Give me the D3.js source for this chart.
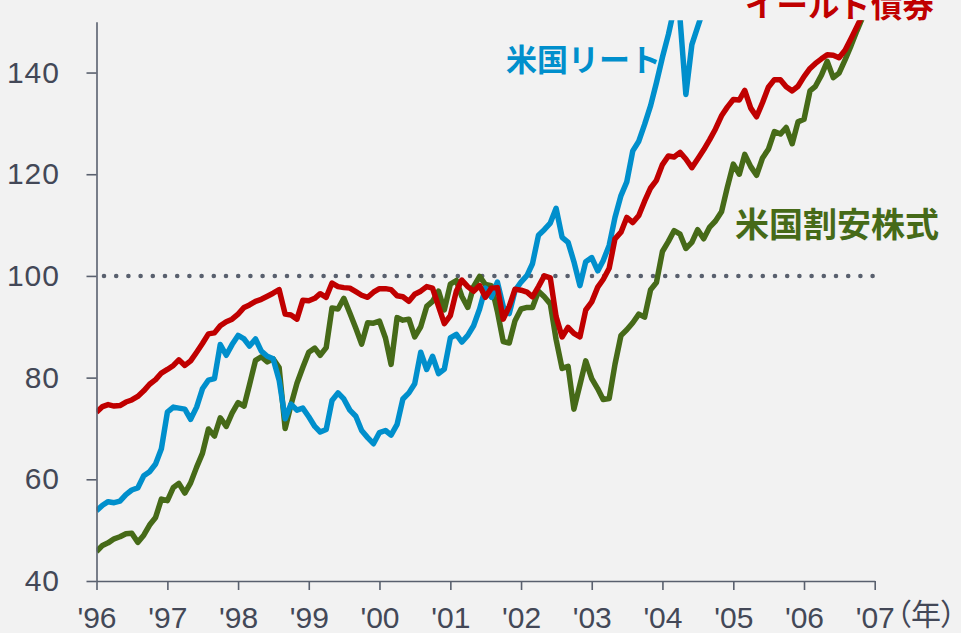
<!DOCTYPE html>
<html>
<head>
<meta charset="utf-8">
<script src="https://cdn.jsdelivr.net/npm/d3@7"></script>
<style>
  body { margin: 0; background: #f2f2f2; }
  svg { display: block; }
</style>
</head>
<body>
<div id="chart"></div>
<script>
// monthly index values, starting Jan 1996
const startMonth = new Date(1996, 0, 1);

const reitValues = [
    53.8, 54.9, 55.6, 55.4, 55.7, 57.0, 57.9, 58.3, 60.7, 61.5, 63.0, 66.0,
    73.2, 74.2, 74.0, 73.8, 71.8, 74.2, 77.8, 79.5, 79.8, 86.5, 84.4, 86.5,
    88.3, 87.6, 86.2, 87.6, 85.2, 84.2, 83.7, 79.5, 71.9, 74.8, 73.6, 74.0,
    72.3, 70.4, 69.3, 69.8, 75.5, 77.0, 75.8, 73.6, 72.4, 69.6, 68.2, 67.0,
    69.2, 69.6, 68.7, 70.8, 75.8, 77.0, 78.8, 85.0, 81.6, 84.2, 80.8, 81.7,
    87.8, 88.5, 87.0, 88.3, 90.2, 93.5, 97.6, 95.8, 98.8, 94.0, 92.6, 97.1,
    98.8, 100.1, 102.4, 108.0, 109.1, 110.4, 113.3, 107.6, 106.6, 102.8, 98.1, 102.8,
    103.6, 101.0, 103.0, 106.0, 111.5, 115.8, 118.5, 124.6, 126.5, 129.8, 133.5, 138.0,
    143.0, 147.5, 152.5, 150.5, 135.7, 145.5, 149.0, 152.5
];

const highYieldValues = [
    73.2, 74.3, 74.7, 74.4, 74.5, 75.2, 75.6, 76.3, 77.4, 78.7, 79.6, 80.9,
    81.6, 82.4, 83.5, 82.4, 83.3, 85.0, 86.7, 88.6, 88.8, 90.2, 91.0, 91.5,
    92.5, 93.8, 94.3, 95.0, 95.4, 96.0, 96.6, 97.3, 92.5, 92.3, 91.5, 95.2,
    95.1, 95.6, 96.5, 95.8, 98.6, 97.9, 97.7, 97.6, 96.9, 96.2, 95.8, 96.8,
    97.5, 97.5, 97.3, 96.1, 95.9, 95.0, 96.4, 97.0, 97.9, 97.6, 94.0, 90.6,
    92.2, 97.0, 99.2, 97.9, 97.0, 98.1, 95.8, 97.6, 97.7, 91.5, 94.0, 97.4,
    97.2, 96.8, 95.9, 97.9, 100.0, 99.6, 92.0, 88.0, 89.9, 88.7, 88.0, 93.3,
    94.9, 97.8, 99.3, 101.5, 107.3, 108.6, 111.5, 110.5, 111.9, 114.7, 117.3, 118.8,
    121.9, 123.6, 123.4, 124.3, 123.0, 121.3, 123.0, 124.8, 126.8, 128.9, 131.5, 133.2,
    134.7, 134.6, 136.5, 133.0, 131.3, 134.1, 137.1, 138.6, 138.6, 137.2, 136.4, 137.3,
    139.2, 140.8, 141.8, 142.7, 143.5, 143.4, 142.9, 144.4, 146.7, 149.0, 151.5
];

const valueStockValues = [
    45.8, 47.0, 47.5, 48.3, 48.7, 49.3, 49.4, 47.6, 49.0, 51.0, 52.5, 56.1,
    55.8, 58.4, 59.2, 57.3, 59.3, 62.4, 65.1, 69.9, 68.5, 72.1, 70.4, 73.0,
    75.1, 74.4, 78.6, 83.4, 84.1, 83.1, 83.7, 82.0, 70.0, 74.6, 78.9, 82.0,
    85.0, 85.8, 84.4, 85.9, 93.7, 93.5, 95.6, 92.7, 89.7, 86.6, 90.8, 90.7,
    91.1, 87.8, 82.6, 91.8, 91.3, 91.5, 88.0, 90.0, 94.0, 95.0, 97.0, 93.3,
    98.4, 99.1, 96.0, 93.8, 97.9, 99.9, 98.3, 98.1, 93.0, 87.1, 86.8, 91.2,
    93.5, 93.8, 93.8, 97.0, 95.9, 94.5, 87.5, 81.8, 82.2, 73.8, 78.6, 83.3,
    79.8, 77.8, 75.7, 75.9, 82.6, 88.3, 89.4, 90.8, 92.5, 91.9, 97.3, 98.7,
    104.8, 106.8, 108.9, 108.2, 105.4, 106.6, 109.1, 107.3, 109.6, 110.8, 112.6, 117.4,
    122.0, 120.0, 123.9, 121.5, 119.8, 123.2, 124.9, 128.4, 127.9, 129.2, 126.0, 130.3,
    130.8, 136.4, 137.3, 139.5, 142.2, 139.0, 139.9, 142.5, 145.3, 148.2, 151.0
];

const seriesNames = ["米国割安株式", "米国リート", "イールド債券"];
const seriesColors = ["#466a18", "#008fcc", "#c00000"];

const yTicks = [40, 60, 80, 100, 120, 140];
const xTickYears = [1996, 1997, 1998, 1999, 2000, 2001, 2002, 2003, 2004, 2005, 2006, 2007];
const baseLine = 100;

const width = 961, height = 633;
const plotLeft = 96.5, plotRight = 874.7, plotTop = 21.7, plotBottom = 581;

const svg = d3.select("#chart")
    .append("svg")
    .attr("width", width)
    .attr("height", height);

const x = d3.scaleTime()
    .domain([new Date(1996, 0, 1), new Date(2007, 0, 1)])
    .range([plotLeft, plotRight]);

const y = d3.scaleLinear()
    .domain([40, 150])
    .range([plotBottom, plotTop]);

const toPoints = function(vals) {
    return vals.map(function(v, i) { return {date: d3.timeMonth.offset(startMonth, i), value: v}; });
};

const series = [valueStockValues, reitValues, highYieldValues].map(function(vals, i) {
    return {name: seriesNames[i], color: seriesColors[i], points: toPoints(vals)};
});

svg.append("clipPath").attr("id", "plot-clip")
    .append("rect")
    .attr("x", plotLeft).attr("y", plotTop - 1.5)
    .attr("width", width - plotLeft).attr("height", plotBottom - plotTop + 10);

// dotted 100 line
svg.append("line")
    .attr("x1", plotLeft + 7.5).attr("x2", plotRight)
    .attr("y1", y(baseLine)).attr("y2", y(baseLine))
    .attr("stroke", "#59606e")
    .attr("stroke-width", 4.6)
    .attr("stroke-linecap", "round")
    .attr("stroke-dasharray", "0 12.2");

const line = d3.line()
    .x(function(d) { return x(d.date); })
    .y(function(d) { return y(d.value); });

svg.append("g")
    .attr("clip-path", "url(#plot-clip)")
    .selectAll("path")
    .data(series)
    .join("path")
    .attr("d", function(d) { return line(d.points); })
    .attr("fill", "none")
    .attr("stroke", function(d) { return d.color; })
    .attr("stroke-width", 5.5)
    .attr("stroke-linejoin", "round");

const axisColor = "#59606e";
const textColor = "#434857";

const yAxis = svg.append("g")
    .attr("transform", "translate(" + plotLeft + ",0)")
    .call(d3.axisLeft(y).tickValues(yTicks).tickSize(10).tickPadding(26.5).tickSizeOuter(0));

const xAxis = svg.append("g")
    .attr("transform", "translate(0," + plotBottom + ")")
    .call(d3.axisBottom(x)
        .tickValues(xTickYears.map(function(yr) { return new Date(yr, 0, 1); }))
        .tickFormat(function(d) { return "'" + d3.timeFormat("%y")(d); })
        .tickSize(9).tickPadding(17).tickSizeOuter(0));

[yAxis, xAxis].forEach(function(g) {
    g.select(".domain").attr("stroke", axisColor).attr("stroke-width", 1.6);
    g.selectAll(".tick line").attr("stroke", axisColor).attr("stroke-width", 1.6);
    g.selectAll("text")
        .attr("fill", textColor)
        .attr("font-family", "'Liberation Sans', Arial, sans-serif")
        .attr("font-size", "30px");
});
yAxis.selectAll("text").attr("letter-spacing", "1px");

// unit label, proportional CJK punctuation keeps the brackets tight
svg.append("text")
    .attr("x", 896).attr("y", 625)
    .attr("fill", textColor)
    .attr("font-family", "'Noto Sans CJK JP', sans-serif")
    .attr("font-size", "30px")
    .style("font-feature-settings", "'palt'")
    .text("（年）");

// series labels
const labelPos = [[735, 222.5, 34], [506, 57, 31], [745, 3, 31.5]];
series.forEach(function(s, i) {
    svg.append("text")
        .attr("x", labelPos[i][0]).attr("y", labelPos[i][1])
        .attr("dominant-baseline", "central")
        .attr("fill", s.color)
        .attr("font-family", "'Noto Sans CJK JP', sans-serif")
        .attr("font-weight", "bold")
        .attr("font-size", labelPos[i][2] + "px")
        .text(s.name);
});
</script>
</body>
</html>
